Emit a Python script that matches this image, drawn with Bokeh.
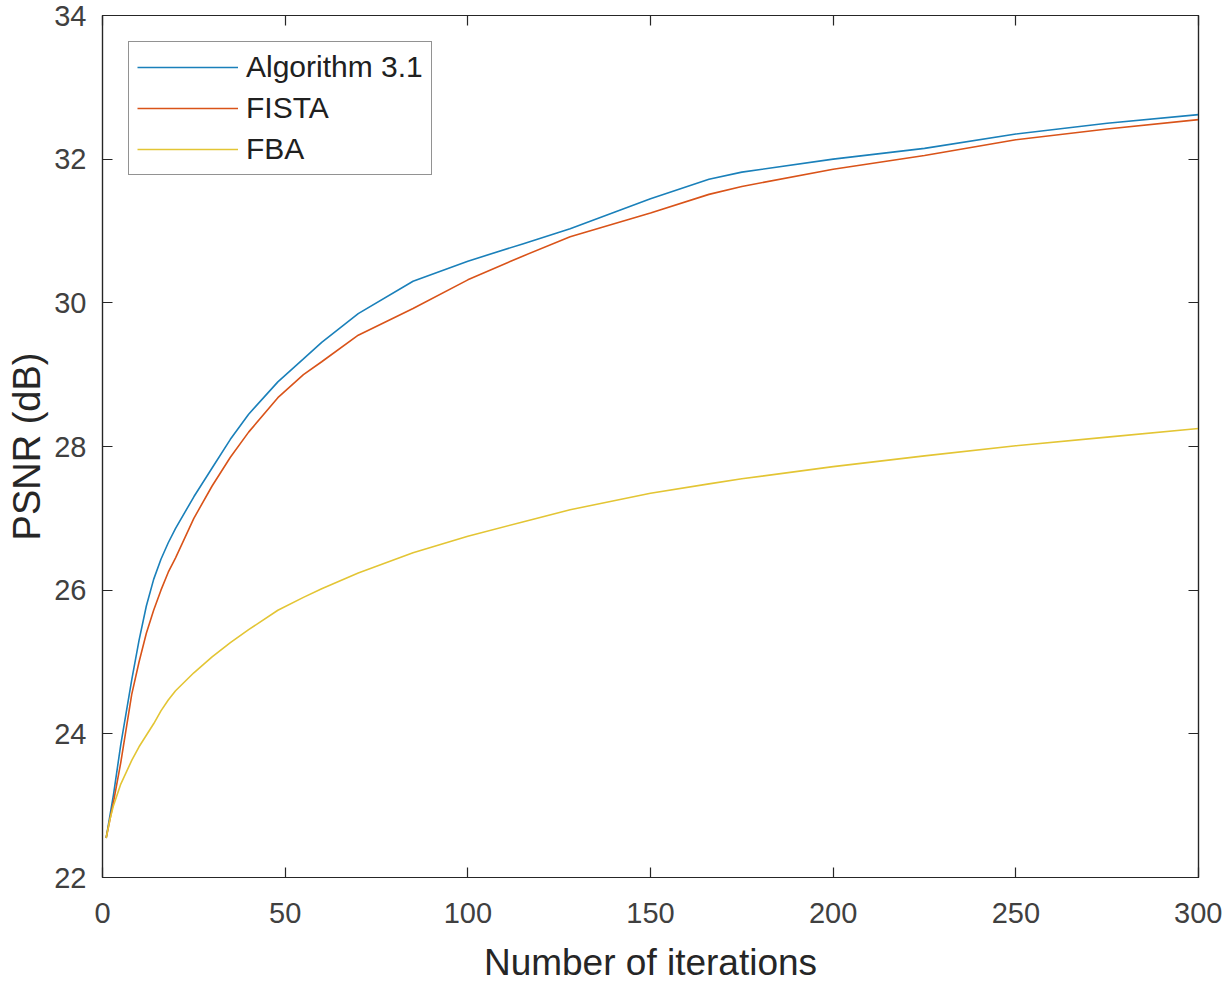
from bokeh.plotting import figure
from bokeh.models import LinearAxis, Legend, LegendItem, FixedTicker, CustomJSTickFormatter
from bokeh.embed import file_html
from bokeh.resources import INLINE

iterations = [1, 2, 3, 5, 8, 10, 12, 14, 16, 18, 20, 25, 30, 35, 40, 48, 55, 60, 70, 85,
              100, 115, 128, 150, 166, 175, 200, 225, 250, 275, 300]
alg31 = [22.55, 22.85, 23.15, 23.85, 24.75, 25.3, 25.78, 26.15, 26.43, 26.66, 26.86,
         27.3, 27.7, 28.1, 28.45, 28.9, 29.22, 29.45, 29.85, 30.3, 30.58, 30.82, 31.03,
         31.45, 31.72, 31.82, 32.0, 32.15, 32.35, 32.5, 32.62]
fista = [22.55, 22.8, 23.05, 23.6, 24.55, 25.0, 25.4, 25.72, 26.0, 26.25, 26.45,
         27.0, 27.45, 27.85, 28.2, 28.68, 29.0, 29.18, 29.55, 29.92, 30.32, 30.65,
         30.92, 31.25, 31.51, 31.62, 31.86, 32.05, 32.27, 32.42, 32.55]
fba = [22.55, 22.8, 23.0, 23.3, 23.63, 23.82, 23.98, 24.14, 24.32, 24.47, 24.6,
       24.85, 25.07, 25.27, 25.45, 25.72, 25.9, 26.02, 26.24, 26.52, 26.75, 26.95,
       27.12, 27.35, 27.48, 27.55, 27.72, 27.87, 28.01, 28.13, 28.25]

series_names = ["Algorithm 3.1", "FISTA", "FBA"]
series_colors = ["#1A80BA", "#D95319", "#E3C534"]
x_ticks = [0, 50, 100, 150, 200, 250, 300]
y_ticks = [22, 24, 26, 28, 30, 32, 34]

FONT = "Liberation Sans"
AX = "#262626"

p = figure(frame_width=1096, frame_height=862, x_range=(0, 300), y_range=(22, 34),
           output_backend="svg", toolbar_location=None,
           min_border_left=102, min_border_right=24, min_border_top=15, min_border_bottom=107)
p.background_fill_color = "white"
p.border_fill_color = "white"
p.outline_line_color = AX
p.outline_line_width = 1.2
p.xgrid.visible = False
p.ygrid.visible = False

renderers = []
for ys, c in zip([alg31, fista, fba], series_colors):
    r = p.line(iterations, ys, line_color=c, line_width=1.6)
    renderers.append(r)

def style_axis(ax, ticks, show_labels=True):
    ax.ticker = FixedTicker(ticks=ticks)
    ax.major_tick_in = 10
    ax.major_tick_out = 0
    ax.minor_tick_line_color = None
    ax.axis_line_color = AX
    ax.axis_line_width = 1.2
    ax.major_tick_line_color = AX
    ax.major_tick_line_width = 1.2
    ax.major_label_text_font = FONT
    ax.major_label_text_color = "#404040"
    ax.major_label_text_font_size = "29px"
    if not show_labels:
        ax.formatter = CustomJSTickFormatter(code="return ''")
        ax.major_label_standoff = 0

xa = p.xaxis[0]
ya = p.yaxis[0]
style_axis(xa, x_ticks)
style_axis(ya, y_ticks)
xa.major_label_standoff = 25
ya.major_label_standoff = 16
xa.axis_label = "Number of iterations"
ya.axis_label = "PSNR (dB)"
for a in (xa, ya):
    a.axis_label_text_font = FONT
    a.axis_label_text_font_style = "normal"
    a.axis_label_text_color = AX
xa.axis_label_text_font_size = "37px"
ya.axis_label_text_font_size = "38px"
xa.axis_label_standoff = 16
ya.axis_label_standoff = 3

top_ax = LinearAxis()
right_ax = LinearAxis()
style_axis(top_ax, x_ticks, show_labels=False)
style_axis(right_ax, y_ticks, show_labels=False)
p.add_layout(top_ax, "above")
p.add_layout(right_ax, "right")

legend = Legend(items=[LegendItem(label=n, renderers=[r]) for n, r in zip(series_names, renderers)],
                location="top_left", margin=26, padding=8, spacing=7,
                glyph_width=101, glyph_height=32, label_height=32, label_standoff=8,
                label_text_font=FONT, label_text_font_size="30px", label_text_color="#202020",
                border_line_color=AX, border_line_width=1.2,
                background_fill_color="white", background_fill_alpha=1.0)
p.add_layout(legend, "center")

open("out.html", "w").write(file_html(p, INLINE))
